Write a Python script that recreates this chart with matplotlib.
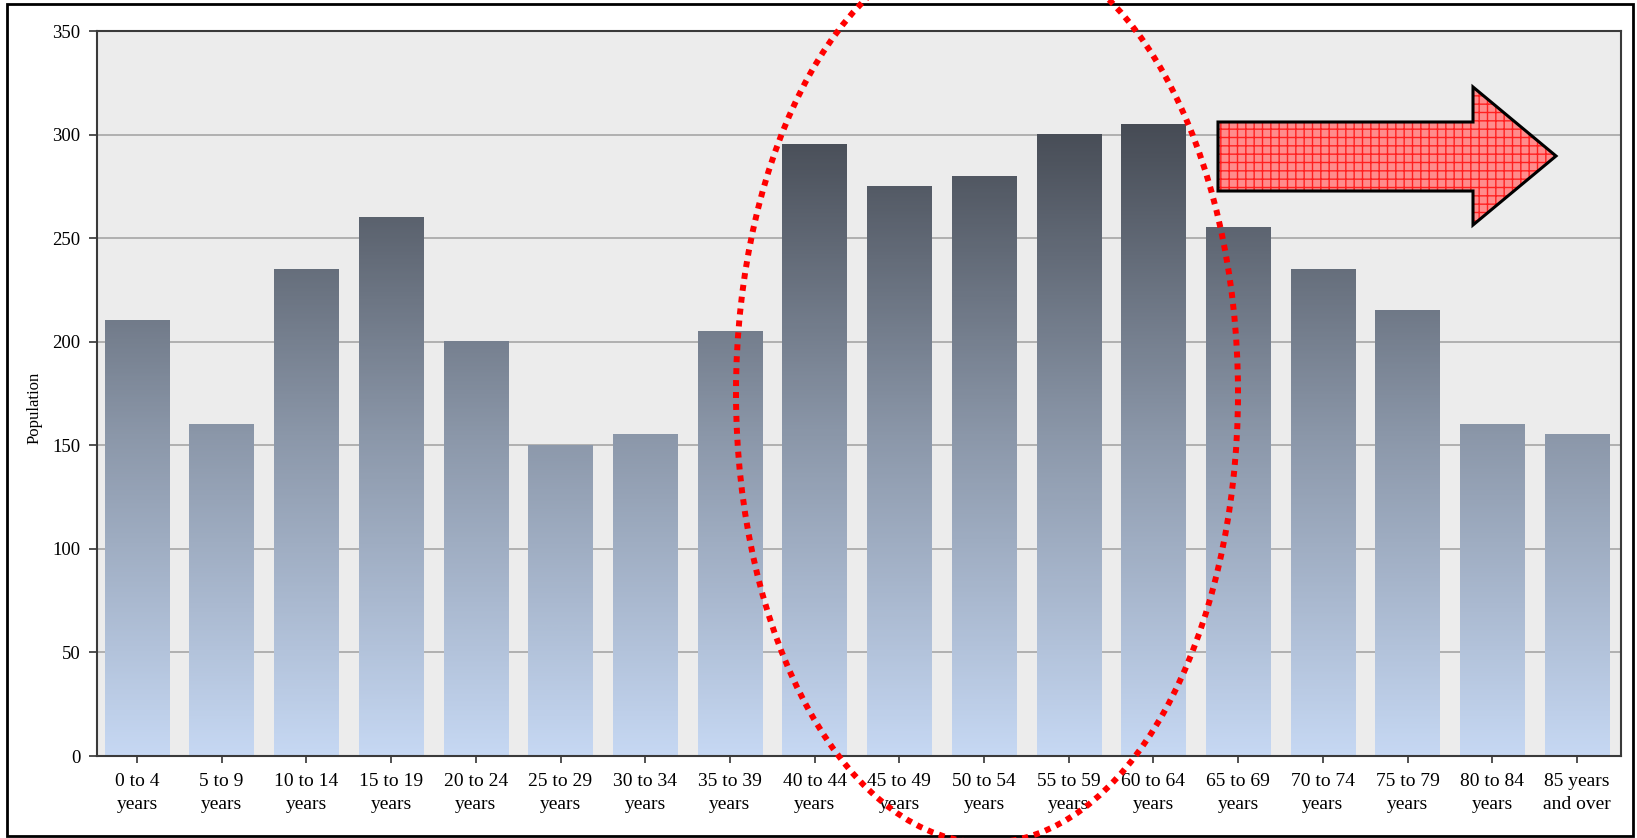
import numpy as np
import matplotlib
matplotlib.use('Agg')
import matplotlib.pyplot as plt
from matplotlib.colors import LinearSegmentedColormap
from matplotlib.patches import Ellipse, Polygon, Rectangle

# Data
age_groups = ['0 to 4\nyears', '5 to 9\nyears', '10 to 14\nyears', '15 to 19\nyears',
              '20 to 24\nyears', '25 to 29\nyears', '30 to 34\nyears', '35 to 39\nyears',
              '40 to 44\nyears', '45 to 49\nyears', '50 to 54\nyears', '55 to 59\nyears',
              '60 to 64\nyears', '65 to 69\nyears', '70 to 74\nyears', '75 to 79\nyears',
              '80 to 84\nyears', '85 years\nand over']
population = [210, 160, 235, 260, 200, 150, 155, 205, 295, 275, 280, 300, 305,
              255, 235, 215, 160, 155]
y_ticks = [0, 50, 100, 150, 200, 250, 300, 350]

serif = 'Liberation Serif'
bar_cmap = LinearSegmentedColormap.from_list('bars', ['#c6d8f3', '#8b97a9', '#444952'])

fig = plt.figure(figsize=(16.37, 8.38), dpi=100)
ax = fig.add_axes([97 / 1637, 82 / 838, 1524 / 1637, 725 / 838])
ax.set_facecolor('#ececec')

# gridlines behind bars
for v in y_ticks[1:-1]:
    ax.axhline(v, color='#a6a6a6', lw=1.2, zorder=1)

# bars with a vertical gradient tied to the value axis
width = 0.76
x = np.arange(len(population))
for xi, h in zip(x, population):
    grad = np.linspace(0, h, 256).reshape(-1, 1)
    ax.imshow(grad, extent=(xi - width / 2, xi + width / 2, 0, h), origin='lower',
              cmap=bar_cmap, vmin=0, vmax=310, aspect='auto', zorder=2,
              interpolation='bilinear')

ax.set_xlim(-0.472, 17.52)
ax.set_ylim(0, 350)
ax.set_yticks(y_ticks)
ax.set_xticks(x)
ax.set_xticklabels(age_groups, family=serif, fontsize=14, linespacing=1.5)
ax.set_yticklabels([str(v) for v in y_ticks], family=serif, fontsize=13.5)
ax.tick_params(axis='y', length=6, width=1.2, color='#333333', pad=6)
ax.tick_params(axis='x', length=5, width=1.2, color='#333333', pad=7)
for s in ax.spines.values():
    s.set_color('#3a3a3a')
    s.set_linewidth(1.5)
ax.set_ylabel('Population', family=serif, fontsize=12)
ax.yaxis.set_label_coords(-0.036, 0.48)

# outer frame
fig.patches.append(Rectangle((0.07, 0.02), 16.26, 8.32, transform=fig.dpi_scale_trans,
                             fill=False, edgecolor='black', lw=2, zorder=5))

# red block arrow pointing right
arrow_pts = [(1218, 122), (1473, 122), (1473, 87), (1556, 156), (1473, 225),
             (1473, 191), (1218, 191)]
arrow_in = [(px / 100, (838 - py) / 100) for px, py in arrow_pts]
fig.patches.append(Polygon(arrow_in, closed=True, transform=fig.dpi_scale_trans,
                           facecolor='#ff8c8c', edgecolor='#ff2020', hatch='++',
                           lw=0, zorder=6))
fig.patches.append(Polygon(arrow_in, closed=True, transform=fig.dpi_scale_trans,
                           fill=False, edgecolor='black', lw=2.2, zorder=7,
                           joinstyle='miter'))

# dotted red ellipse around the 40-64 groups
fig.patches.append(Ellipse((9.87, (838 - 393) / 100), 5.02, 9.0,
                           transform=fig.dpi_scale_trans, fill=False,
                           edgecolor='red', lw=4.3, linestyle=(0, (1, 1)), zorder=8))

fig.savefig('out.png', dpi=100)
